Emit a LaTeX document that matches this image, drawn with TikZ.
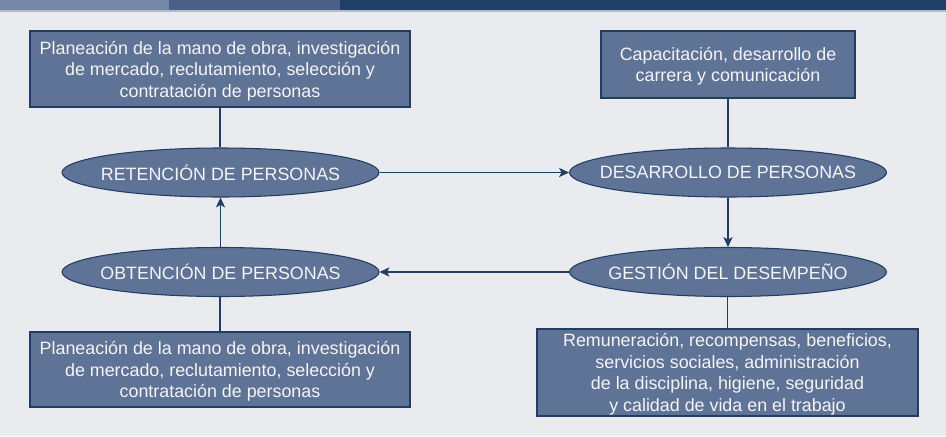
\documentclass[tikz,border=0pt]{standalone}
\usepackage{fontspec}
\setmainfont{Liberation Sans}
\usetikzlibrary{shapes.geometric,arrows.meta}
\definecolor{bg}{HTML}{E9EBEF}
\definecolor{barA}{HTML}{7688A8}
\definecolor{barB}{HTML}{4B6087}
\definecolor{barC}{HTML}{203F69}
\definecolor{barline}{HTML}{B4BCCB}
\definecolor{nodefill}{HTML}{5F7396}
\definecolor{nodeline}{HTML}{223D63}
\definecolor{txt}{HTML}{F4F4F4}
\tikzset{
  base/.style={draw=nodeline, line width=0.8pt, fill=nodefill, text=txt, inner sep=0pt,
    font=\fontsize{13.4}{16.1}\selectfont, align=center},
  infobox/.style={base, rectangle, text depth=0pt},
  phase/.style={base, ellipse, minimum width=237.75pt, minimum height=36.75pt},
  link/.style={draw=nodeline, line width=0.8pt},
  flow/.style={link, -{Stealth[length=7.5pt,width=7pt,inset=2pt]}}
}
\begin{document}
\begin{tikzpicture}[x=0.75pt,y=-0.75pt]
\useasboundingbox (0,0) rectangle (946,436);
\fill[bg] (0,0) rectangle (946,436);
\fill[barA] (0,0) rectangle (169,10);
\fill[barB] (169,0) rectangle (340,10);
\fill[barC] (340,0) rectangle (946,10);
\fill[barline] (0,10) rectangle (946,11.5);

\node[infobox, minimum width=285pt, minimum height=57pt] (tl) at (220,69)
  {Planeación de la mano de obra, investigación\\de mercado, reclutamiento, selección y\\contratación de personas};
\node[infobox, minimum width=190.5pt, minimum height=50.25pt] (tr) at (728,64.5)
  {Capacitación, desarrollo de\\carrera y comunicación};
\node[infobox, minimum width=285pt, minimum height=56.25pt] (bl) at (220,369.5)
  {Planeación de la mano de obra, investigación\\de mercado, reclutamiento, selección y\\contratación de personas};
\node[infobox, text depth=-1pt, minimum width=285.75pt, minimum height=65.25pt] (br) at (727.5,372.5)
  {Remuneración, recompensas, beneficios,\\servicios sociales, administración\\de la disciplina, higiene, seguridad\\y calidad de vida en el trabajo};

\node[phase] (ret) at (220.5,172.5) {\makebox[0pt]{RETENCIÓN DE PERSONAS}};
\node[phase] (des) at (728,172.5) {\makebox[0pt]{DESARROLLO DE PERSONAS}};
\node[phase] (obt) at (220.5,272) {\makebox[0pt]{OBTENCIÓN DE PERSONAS}};
\node[phase] (ges) at (728,272) {\makebox[0pt]{GESTIÓN DEL DESEMPEÑO}};

\draw[link] (tl.south) -- (tl.south |- ret.north);
\draw[link] (tr.south) -- (tr.south |- des.north);
\draw[link] (obt.south -| bl.north) -- (bl.north);
\draw[link] (ges.south -| br.north) -- (br.north);

\draw[flow] (ret.east) -- (des.west);
\draw[flow] (des.south) -- (ges.north);
\draw[flow] (ges.west) -- (obt.east);
\draw[flow] (obt.north) -- (ret.south);
\end{tikzpicture}
\end{document}
